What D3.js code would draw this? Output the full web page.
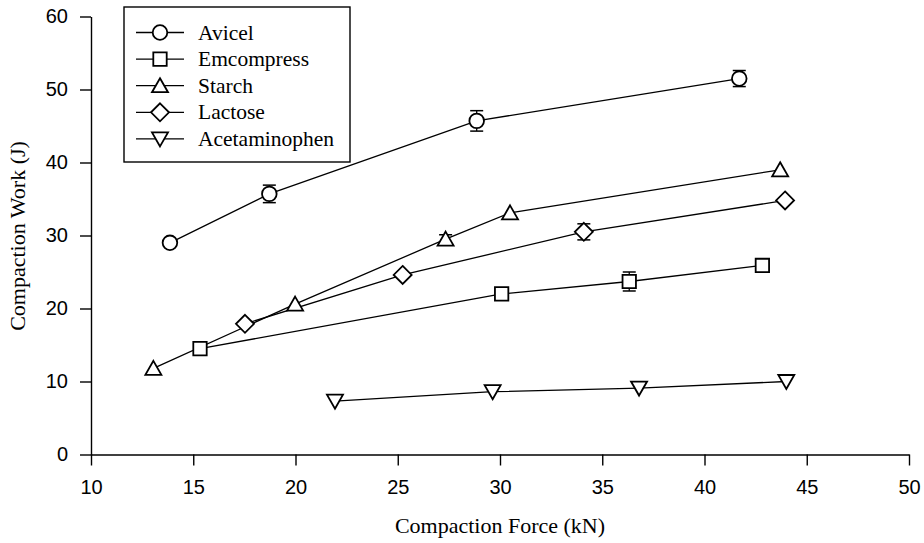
<!DOCTYPE html>
<html>
<head>
<meta charset="utf-8">
<script src="https://cdn.jsdelivr.net/npm/d3@7"></script>
<style>
  html, body { margin: 0; padding: 0; background: #fff; }
  svg { display: block; }
</style>
</head>
<body>
<svg id="chart" width="924" height="543"></svg>
<script>
// Compaction work versus compaction force for five tablet excipients
const seriesNames = ["Avicel", "Emcompress", "Starch", "Lactose", "Acetaminophen"];
const markerTypes = ["circle", "square", "triangleUp", "diamond", "triangleDown"];

const avicelForce = [13.86, 18.72, 28.86, 41.7];
const avicelWork  = [29.0, 35.7, 45.7, 51.5];
const avicelErr   = [0, 1.2, 1.4, 1.1];

const emcompressForce = [15.33, 30.08, 36.32, 42.83];
const emcompressWork  = [14.5, 22.0, 23.7, 25.9];
const emcompressErr   = [0, 0, 1.3, 0];

const starchForce = [13.05, 19.98, 27.34, 30.49, 43.7];
const starchWork  = [11.8, 20.6, 29.5, 33.1, 39.0];
const starchErr   = [0, 0, 0.6, 0, 0];

const lactoseForce = [17.53, 25.24, 34.1, 43.94];
const lactoseWork  = [17.9, 24.6, 30.5, 34.8];
const lactoseErr   = [0, 0, 1.1, 0];

const acetaminophenForce = [21.93, 29.64, 36.8, 44.0];
const acetaminophenWork  = [7.3, 8.6, 9.1, 10.0];
const acetaminophenErr   = [0, 0, 0, 0];

const xTicks = [10, 15, 20, 25, 30, 35, 40, 45, 50];
const yTicks = [0, 10, 20, 30, 40, 50, 60];

const forces = [avicelForce, emcompressForce, starchForce, lactoseForce, acetaminophenForce];
const works  = [avicelWork, emcompressWork, starchWork, lactoseWork, acetaminophenWork];
const errs   = [avicelErr, emcompressErr, starchErr, lactoseErr, acetaminophenErr];

const series = seriesNames.map((name, i) => ({
  name,
  marker: markerTypes[i],
  points: forces[i].map((f, j) => ({ x: f, y: works[i][j], e: errs[i][j] }))
}));

const svg = d3.select("#chart");
const x = d3.scaleLinear().domain([10, 50]).range([91, 909]);
const y = d3.scaleLinear().domain([0, 60]).range([454.5, 16.5]);

const tickFont = "'Liberation Sans', Arial, sans-serif";
const textFont = "'Liberation Serif', 'Times New Roman', serif";

// Axes
const xAxis = svg.append("g")
  .attr("transform", `translate(0,${y(0)})`)
  .call(d3.axisBottom(x).tickValues(xTicks).tickSize(11).tickPadding(8).tickSizeOuter(0));
const yAxis = svg.append("g")
  .attr("transform", `translate(${x(10)},0)`)
  .call(d3.axisLeft(y).tickValues(yTicks).tickSize(11).tickPadding(12).tickSizeOuter(0));

[xAxis, yAxis].forEach(g => {
  g.select(".domain").attr("stroke", "#000").attr("stroke-width", 1.4);
  g.selectAll(".tick line").attr("stroke", "#000").attr("stroke-width", 1.4);
  g.selectAll(".tick text")
    .attr("fill", "#000")
    .style("font-family", tickFont)
    .style("font-size", "20px");
});
xAxis.selectAll(".tick text").attr("dy", "1.0em");

// Axis titles
svg.append("text")
  .attr("x", 500).attr("y", 533)
  .attr("text-anchor", "middle")
  .style("font-family", textFont).style("font-size", "22px")
  .text("Compaction Force (kN)");

svg.append("text")
  .attr("transform", `translate(25,236) rotate(-90)`)
  .attr("text-anchor", "middle")
  .style("font-family", textFont).style("font-size", "22px")
  .text("Compaction Work (J)");

// Marker shapes (centred on the data point)
const shapePaths = {
  square: "M-6.7,-6.7H6.7V6.7H-6.7Z",
  triangleUp: "M0,-7.5L8,6.5L-8,6.5Z",
  triangleDown: "M0,7.5L8,-6.5L-8,-6.5Z",
  diamond: "M0,-9L9,0L0,9L-9,0Z"
};
function drawMarker(g, type, cx, cy) {
  if (type === "circle") {
    g.append("circle").attr("cx", cx).attr("cy", cy).attr("r", 7.3)
      .attr("fill", "#fff").attr("stroke", "#000").attr("stroke-width", 1.8);
  } else {
    g.append("path").attr("d", shapePaths[type])
      .attr("transform", `translate(${cx},${cy})`)
      .attr("fill", "#fff").attr("stroke", "#000").attr("stroke-width", 1.8)
      .attr("stroke-linejoin", "miter");
  }
}

const line = d3.line().x(d => x(d.x)).y(d => y(d.y));
const plot = svg.append("g");

series.forEach(s => {
  plot.append("path").datum(s.points)
    .attr("d", line)
    .attr("fill", "none").attr("stroke", "#000").attr("stroke-width", 1.3);
});

series.forEach(s => {
  const g = plot.append("g");
  s.points.forEach(p => {
    if (p.e > 0) {
      const cx = x(p.x), top = y(p.y + p.e), bot = y(p.y - p.e);
      g.append("line").attr("x1", cx).attr("x2", cx).attr("y1", top).attr("y2", bot)
        .attr("stroke", "#000").attr("stroke-width", 1.3);
      [top, bot].forEach(yy => g.append("line")
        .attr("x1", cx - 6.5).attr("x2", cx + 6.5).attr("y1", yy).attr("y2", yy)
        .attr("stroke", "#000").attr("stroke-width", 1.5));
    }
  });
  s.points.forEach(p => drawMarker(g, s.marker, x(p.x), y(p.y)));
});

// Legend
const legend = svg.append("g");
legend.append("rect")
  .attr("x", 124).attr("y", 7).attr("width", 226).attr("height", 155)
  .attr("fill", "#fff").attr("stroke", "#000").attr("stroke-width", 1.4);
series.forEach((s, i) => {
  const ly = 32.5 + i * 26.6;
  legend.append("line").attr("x1", 136).attr("x2", 184).attr("y1", ly).attr("y2", ly)
    .attr("stroke", "#000").attr("stroke-width", 1.3);
  drawMarker(legend, s.marker, 160, ly);
  legend.append("text")
    .attr("x", 198).attr("y", ly + 7)
    .style("font-family", textFont).style("font-size", "21.5px")
    .text(s.name);
});
</script>
</body>
</html>
